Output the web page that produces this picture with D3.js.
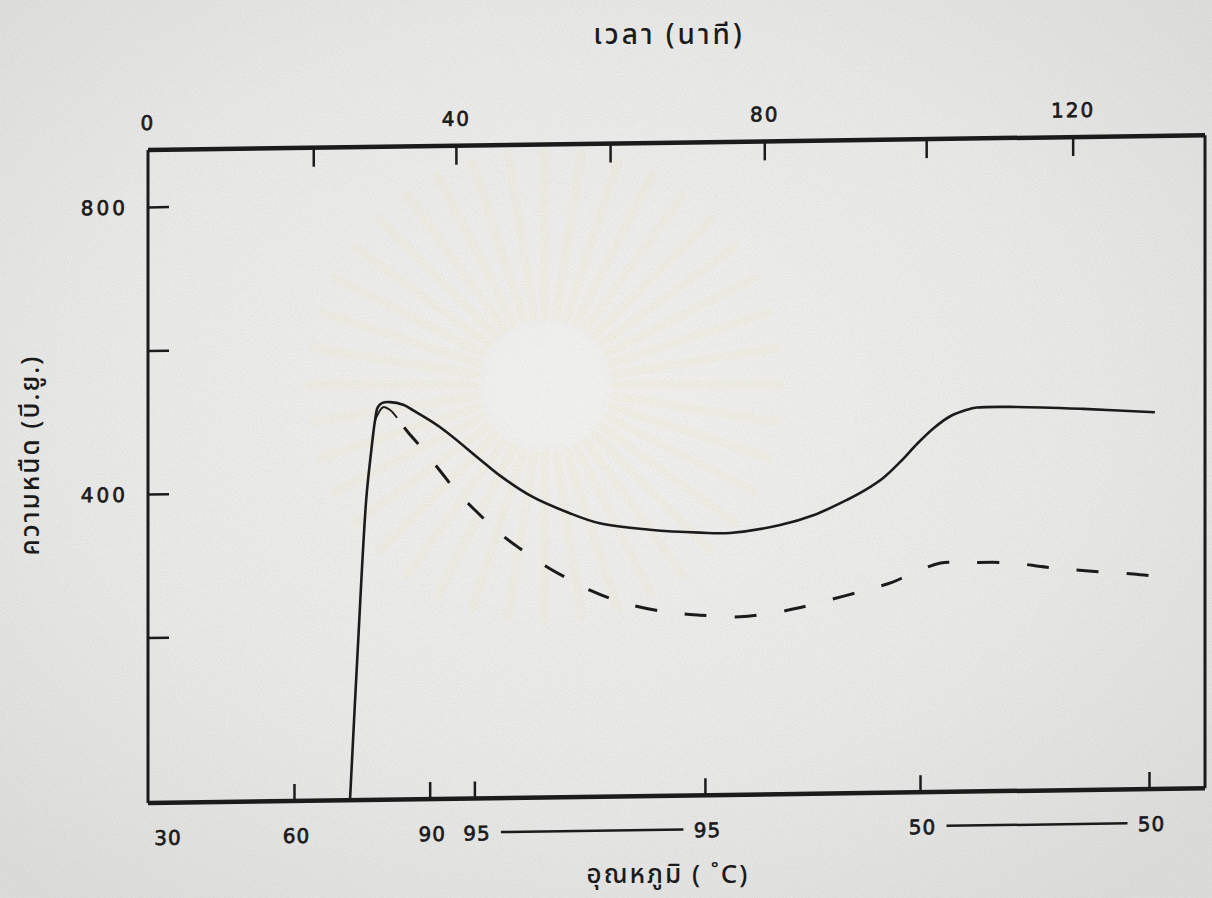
<!DOCTYPE html>
<html>
<head>
<meta charset="utf-8">
<script src="https://cdn.jsdelivr.net/npm/d3@7"></script>
<style>
  html, body { margin: 0; padding: 0; background: #e7e7e5; }
  svg { display: block; }
  text { fill: #1b1b1b; }
</style>
</head>
<body>
<svg id="chart" width="1212" height="898"></svg>
<script>
// ---------- data ----------
// time in minutes, viscosity in B.U.
const solidTime = [26.2, 27.2, 28.3, 28.9, 29.45, 29.8, 30.4, 31.4, 33.1, 34.4, 37.9, 43.1, 45.7, 49.9, 54.4, 58.6, 65.1, 71.6, 75.5, 82.0, 86.3, 90.7, 93.0, 95.4, 97.6, 99.8, 101.9, 104.0, 106.2, 107.5, 112.7, 121.3, 130.6];
const solidVisc = [-30, 179, 388, 451, 499, 517, 523, 524, 520, 512, 488, 442, 419, 389, 367, 351, 341, 336, 335, 345, 358, 379, 392, 409, 431, 456, 477, 493, 502, 505, 505, 501, 495];

const dashedTime = [29.45, 30.5, 31.4, 32.3, 33.7, 35.7, 37.9, 40.1, 42.4, 45.4, 48.3, 51.5, 54.7, 57.3, 61.9, 67.3, 71.6, 76.8, 81.2, 84.3, 88.5, 93.2, 96.5, 98.5, 102.8, 105.6, 111.8, 116.6, 122.0, 127.8, 131.6];
const dashedVisc = [499, 517, 513, 502, 482, 457, 427, 397, 372, 341, 317, 293, 273, 258, 239, 226, 221, 218, 223, 229, 240, 253, 263, 272, 289, 289, 288, 281, 275, 270, 265];

const topTickTimes = [21.5, 40, 60, 80, 101, 120];
const topLabelTimes = [0, 40, 80, 120];

const tempTickTimes = [19, 36.6, 42.4, 72.3, 100.2, 129.9];
const tempLabelTimes = [0, 19, 36.6, 42.4, 72.3, 100.2, 129.9];
const tempLabels = ["30", "60", "90", "95", "95", "50", "50"];

const yTickValues = [200, 400, 600, 800];
const yLabelValues = [400, 800];

const titleTop = "เวลา (นาที)";
const titleBottom = "อุณหภูมิ ( ˚C)";
const titleLeft = "ความหนืด (บี.ยู.)";

// ---------- layout ----------
const pL = 148, pR = 1205, pT = 150, pB = 803;
const svg = d3.select("#chart");
const NUMFONT = "'DejaVu Sans', 'Noto Sans', sans-serif";
const THAIFONT = "'Noto Sans Thai', 'Noto Sans', 'DejaVu Sans', sans-serif";
const ink = "#1b1b1b";

// paper background
const defs = svg.append("defs");
const rg = defs.append("radialGradient").attr("id", "paper").attr("cx", "48%").attr("cy", "45%").attr("r", "70%");
rg.append("stop").attr("offset", "0%").attr("stop-color", "#f2f2f0");
rg.append("stop").attr("offset", "60%").attr("stop-color", "#eaeae9");
rg.append("stop").attr("offset", "100%").attr("stop-color", "#dddddc");
const flt = defs.append("filter").attr("id", "grain").attr("x", 0).attr("y", 0).attr("width", "100%").attr("height", "100%");
flt.append("feTurbulence").attr("type", "fractalNoise").attr("baseFrequency", 0.9).attr("numOctaves", 2).attr("seed", 3).attr("result", "n");
flt.append("feColorMatrix").attr("type", "matrix")
  .attr("values", "0 0 0 0 0.45  0 0 0 0 0.45  0 0 0 0 0.45  0 0 0 -1.1 0.75");
svg.append("rect").attr("width", 1212).attr("height", 898).attr("fill", "url(#paper)");
svg.append("rect").attr("width", 1212).attr("height", 898).attr("filter", "url(#grain)").attr("opacity", 0.35);

// very faint watermark rays (emblem showing through the scanned page)
const wm = svg.append("g").attr("opacity", 0.16);
const wcx = 545, wcy = 385;
d3.range(0, 360, 9).forEach(a => {
  const r = a * Math.PI / 180;
  wm.append("line")
    .attr("x1", wcx + Math.cos(r) * 70).attr("y1", wcy + Math.sin(r) * 70)
    .attr("x2", wcx + Math.cos(r) * 235).attr("y2", wcy + Math.sin(r) * 235)
    .attr("stroke", "#efe4b8").attr("stroke-width", 9).attr("stroke-linecap", "round");
});
svg.append("circle").attr("cx", wcx).attr("cy", wcy).attr("r", 60).attr("fill", "#f5f5f3").attr("opacity", 0.15);

// scales
const x = d3.scaleLinear().domain([0, 137.1]).range([pL, pR]);
const y = d3.scaleLinear().domain([-30, 880]).range([pB, pT]);

// whole plot slightly skewed, as in the scanned page
const g = svg.append("g")
  .attr("transform", `translate(${pL},0) skewY(-0.8) translate(${-pL},0)`);

// frame
g.append("line").attr("x1", pL).attr("x2", pR).attr("y1", pT).attr("y2", pT)
  .attr("stroke", ink).attr("stroke-width", 4.5);
g.append("line").attr("x1", pL).attr("x2", pR).attr("y1", pB).attr("y2", pB)
  .attr("stroke", ink).attr("stroke-width", 4.5);
g.append("line").attr("x1", pL).attr("x2", pL).attr("y1", pT).attr("y2", pB)
  .attr("stroke", ink).attr("stroke-width", 3);
g.append("line").attr("x1", pR).attr("x2", pR).attr("y1", pT).attr("y2", pB)
  .attr("stroke", ink).attr("stroke-width", 3);

function numText(sel, size, ls) {
  return sel.attr("font-family", NUMFONT).attr("font-size", size).attr("letter-spacing", ls)
    .attr("stroke", ink).attr("stroke-width", 0.7);
}

// top (time) ticks
g.selectAll(".tt").data(topTickTimes).join("line")
  .attr("x1", d => x(d)).attr("x2", d => x(d))
  .attr("y1", pT).attr("y2", pT + 19)
  .attr("stroke", ink).attr("stroke-width", 2.5);
numText(g.selectAll(".tl").data(topLabelTimes).join("text")
  .attr("x", d => x(d)).attr("y", pT - 20)
  .attr("text-anchor", "middle"), 20, 2)
  .text(d => d);

// bottom (temperature) ticks
g.selectAll(".bt").data(tempTickTimes).join("line")
  .attr("x1", d => x(d)).attr("x2", d => x(d))
  .attr("y1", pB).attr("y2", pB - 17)
  .attr("stroke", ink).attr("stroke-width", 2.5);
numText(g.selectAll(".bl").data(tempLabelTimes).join("text")
  .attr("x", (d, i) => i === 0 ? x(d) + 20 : x(d) + 2)
  .attr("y", pB + 42)
  .attr("text-anchor", "middle"), 20, 1)
  .text((d, i) => tempLabels[i]);
// connectors between equal-temperature labels (holding stages)
[[3, 4], [5, 6]].forEach(([a, b]) => {
  g.append("line")
    .attr("x1", x(tempLabelTimes[a]) + 26).attr("x2", x(tempLabelTimes[b]) - 22)
    .attr("y1", pB + 34).attr("y2", pB + 34)
    .attr("stroke", ink).attr("stroke-width", 2.5);
});

// left (viscosity) ticks
g.selectAll(".yt").data(yTickValues).join("line")
  .attr("x1", pL).attr("x2", pL + 21)
  .attr("y1", d => y(d)).attr("y2", d => y(d))
  .attr("stroke", ink).attr("stroke-width", 2.5);
numText(g.selectAll(".yl").data(yLabelValues).join("text")
  .attr("x", pL - 20).attr("y", d => y(d) + 7)
  .attr("text-anchor", "end"), 20, 3)
  .text(d => d);

// curves
const line = d3.line().x(d => x(d[0])).y(d => y(d[1])).curve(d3.curveCatmullRom.alpha(0.5));
const solid = solidTime.map((t, i) => [t, solidVisc[i]]);
const dashed = dashedTime.map((t, i) => [t, dashedVisc[i]]);

g.append("path").attr("d", line(solid))
  .attr("fill", "none").attr("stroke", ink).attr("stroke-width", 2.6)
  .attr("stroke-linejoin", "round");
// short thin solid start of the dashed curve, then dashes
g.append("path").attr("d", line(dashed.slice(0, 4)))
  .attr("fill", "none").attr("stroke", ink).attr("stroke-width", 2)
  .attr("stroke-linejoin", "round");
g.append("path").attr("d", line(dashed.slice(3)))
  .attr("fill", "none").attr("stroke", ink).attr("stroke-width", 3)
  .attr("stroke-dasharray", "0,12,22,16").attr("stroke-linecap", "butt");

// axis titles
svg.append("text").attr("x", 669).attr("y", 44).attr("text-anchor", "middle")
  .attr("font-family", THAIFONT).attr("font-size", 28).attr("font-weight", 500).attr("letter-spacing", 3).text(titleTop);
svg.append("text").attr("x", 668).attr("y", 883).attr("text-anchor", "middle")
  .attr("font-family", THAIFONT).attr("font-size", 26).attr("font-weight", 500).attr("letter-spacing", 2).text(titleBottom);
svg.append("text").attr("transform", "translate(39,455) rotate(-90)").attr("text-anchor", "middle")
  .attr("font-family", THAIFONT).attr("font-size", 26).attr("font-weight", 500).attr("letter-spacing", 2).text(titleLeft);
</script>
</body>
</html>
